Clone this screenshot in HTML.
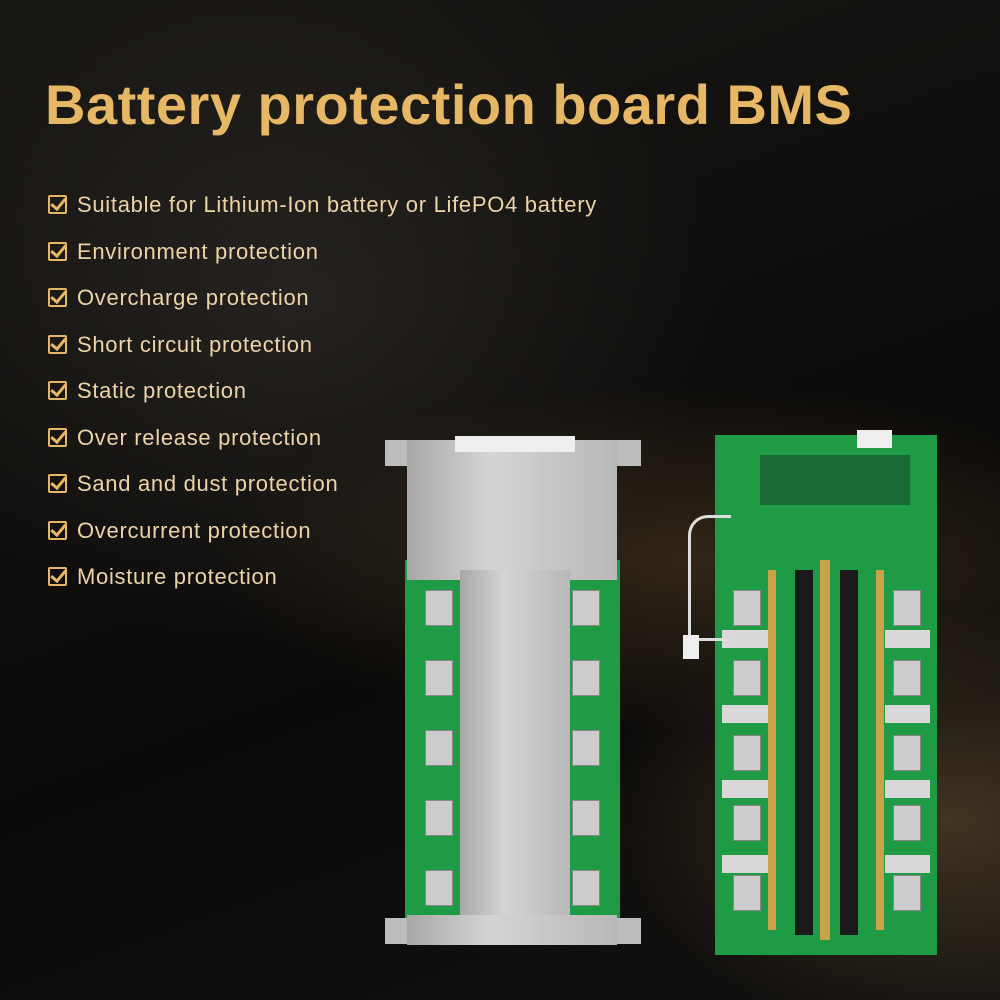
<!DOCTYPE html>
<html><head><meta charset="utf-8"><style>
body{margin:0;width:1000px;height:1000px;overflow:hidden;background:#0e0d0c;font-family:"Liberation Sans",sans-serif;position:relative}
.bg{position:absolute;inset:0;background:
radial-gradient(ellipse 700px 250px at 700px 560px,rgba(120,90,50,.35),transparent 70%),
radial-gradient(ellipse 600px 500px at 300px 300px,rgba(60,55,50,.45),transparent 70%),
radial-gradient(ellipse 500px 300px at 950px 820px,rgba(150,120,70,.35),transparent 70%),
linear-gradient(160deg,#1a1815,#0b0a09 60%,#141210)}
h1{position:absolute;left:45px;top:72px;margin:0;font-size:56px;font-weight:bold;color:#e6b765;letter-spacing:0.5px}
.li{position:absolute;left:48px;font-size:22px;letter-spacing:0.7px;color:#ecd3a8}
.li span{display:inline-block;width:15px;height:15px;border:2px solid #e6b765;border-radius:2px;margin-right:10px;vertical-align:-2px;position:relative}
.li span:after{content:"";position:absolute;left:4px;top:-2px;width:6px;height:12px;border:solid #e6b765;border-width:0 3px 3px 0;transform:rotate(40deg)}
.g{position:absolute;background:#1f9a45}
.m{position:absolute;background:linear-gradient(90deg,#a8a8a8,#d4d4d4 40%,#b8b8b8)}
.t{position:absolute;width:26px;height:26px;background:#bdbdbd}
.s{position:absolute;width:26px;height:34px;background:#ccc;border:1px solid #888}
.pad{position:absolute;height:18px;background:#d8d8d8}
.chip{position:absolute;width:18px;background:#1a1a1a}
</style></head><body>
<div class="bg"></div>
<h1>Battery protection board BMS</h1>
<div class="li" style="top:192px"><span></span>Suitable for Lithium-Ion battery or LifePO4 battery</div>
<div class="li" style="top:239px"><span></span>Environment protection</div>
<div class="li" style="top:285px"><span></span>Overcharge protection</div>
<div class="li" style="top:332px"><span></span>Short circuit protection</div>
<div class="li" style="top:378px"><span></span>Static protection</div>
<div class="li" style="top:425px"><span></span>Over release protection</div>
<div class="li" style="top:471px"><span></span>Sand and dust protection</div>
<div class="li" style="top:518px"><span></span>Overcurrent protection</div>
<div class="li" style="top:564px"><span></span>Moisture protection</div>

<!-- left board -->
<div class="g" style="left:405px;top:560px;width:215px;height:360px"></div>
<div class="t" style="left:385px;top:440px"></div><div class="t" style="left:615px;top:440px"></div>
<div class="t" style="left:385px;top:918px"></div><div class="t" style="left:615px;top:918px"></div>
<div class="m" style="left:407px;top:440px;width:210px;height:140px"></div>
<div class="m" style="left:460px;top:570px;width:110px;height:350px"></div>
<div class="m" style="left:407px;top:915px;width:210px;height:30px"></div>
<div style="position:absolute;left:455px;top:436px;width:120px;height:16px;background:#eee"></div>
<div class="s" style="left:425px;top:590px"></div><div class="s" style="left:425px;top:660px"></div><div class="s" style="left:425px;top:730px"></div><div class="s" style="left:425px;top:800px"></div><div class="s" style="left:425px;top:870px"></div>
<div class="s" style="left:572px;top:590px"></div><div class="s" style="left:572px;top:660px"></div><div class="s" style="left:572px;top:730px"></div><div class="s" style="left:572px;top:800px"></div><div class="s" style="left:572px;top:870px"></div>

<!-- right board -->
<div class="g" style="left:715px;top:435px;width:222px;height:520px"></div>
<div style="position:absolute;left:760px;top:455px;width:150px;height:50px;background:#1a6a35"></div>
<div style="position:absolute;left:857px;top:430px;width:35px;height:18px;background:#eee"></div>
<div class="pad" style="left:722px;top:630px;width:50px"></div><div class="pad" style="left:722px;top:705px;width:50px"></div><div class="pad" style="left:722px;top:780px;width:50px"></div><div class="pad" style="left:722px;top:855px;width:50px"></div>
<div class="pad" style="left:885px;top:630px;width:45px"></div><div class="pad" style="left:885px;top:705px;width:45px"></div><div class="pad" style="left:885px;top:780px;width:45px"></div><div class="pad" style="left:885px;top:855px;width:45px"></div>
<div class="s" style="left:733px;top:590px"></div><div class="s" style="left:733px;top:660px"></div><div class="s" style="left:733px;top:735px"></div><div class="s" style="left:733px;top:805px"></div><div class="s" style="left:733px;top:875px"></div>
<div class="s" style="left:893px;top:590px"></div><div class="s" style="left:893px;top:660px"></div><div class="s" style="left:893px;top:735px"></div><div class="s" style="left:893px;top:805px"></div><div class="s" style="left:893px;top:875px"></div>
<div style="position:absolute;left:768px;top:570px;width:8px;height:360px;background:#c9a24a"></div>
<div style="position:absolute;left:876px;top:570px;width:8px;height:360px;background:#c9a24a"></div>
<div class="chip" style="left:795px;top:570px;height:365px"></div>
<div class="chip" style="left:840px;top:570px;height:365px"></div>
<div style="position:absolute;left:820px;top:560px;width:10px;height:380px;background:#c9a24a"></div>
<div style="position:absolute;left:688px;top:515px;width:40px;height:120px;border:3px solid #ddd;border-right:none;border-radius:20px 0 0 0"></div>
<div style="position:absolute;left:683px;top:635px;width:16px;height:24px;background:#eee"></div>
</body></html>
